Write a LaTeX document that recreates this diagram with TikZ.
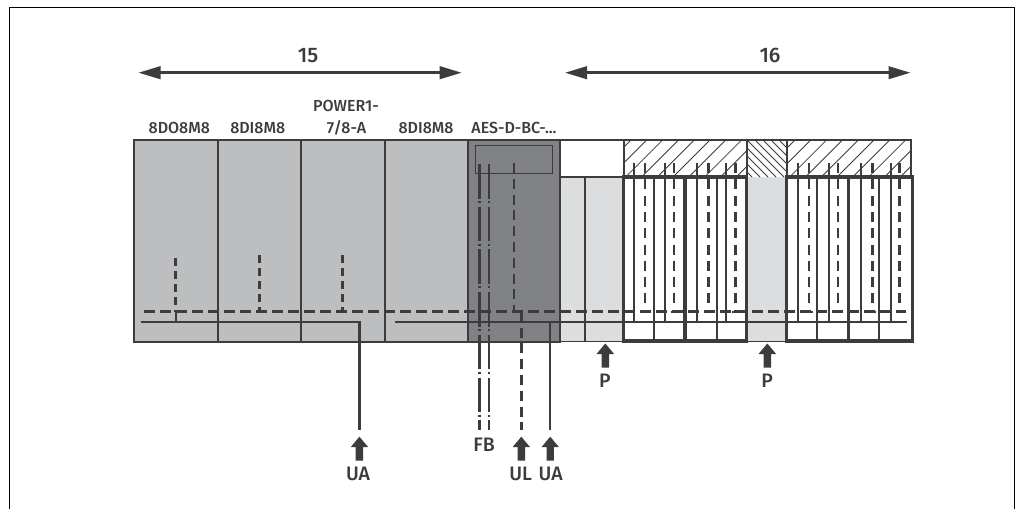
\documentclass[tikz,border=0pt]{standalone}
\usepackage{fontspec}
\setmainfont{Fira Sans}
\newfontfamily\midfont{Fira Sans Medium}
\usetikzlibrary{arrows.meta}
\definecolor{ink}{HTML}{3C3C3D}
\definecolor{modgray}{HTML}{BCBEC0}
\definecolor{darkgray}{HTML}{808285}
\definecolor{lightgray}{HTML}{DCDDDE}
\tikzset{
  x=1pt,y=-1pt,
  thinline/.style={draw=ink,line width=2.3pt},
  thickline/.style={draw=ink,line width=3.4pt},
  hatchline/.style={draw=ink,line width=.85pt},
  dashline/.style={draw=ink,line width=2.6pt,dash pattern=on 10.5pt off 5.5pt},
  stubline/.style={draw=ink,line width=2.6pt,dash pattern=on 8pt off 5pt},
  fbline/.style={draw=ink,line width=2.5pt,dash pattern=on 34.5pt off 2.5pt on 2pt off 3.7pt},
  span/.style={draw=ink,line width=2.6pt,{Triangle[length=22pt,width=12.5pt]}-{Triangle[length=22pt,width=12.5pt]}},
  feed/.style={fill=ink,draw=none},
  modlabel/.style={font=\midfont\fontsize{16}{18}\selectfont,text=ink,inner sep=0pt,anchor=center},
  siglabel/.style={font=\midfont\fontsize{19.5}{21}\selectfont,text=ink,inner sep=0pt,anchor=center},
  spanlabel/.style={font=\midfont\fontsize{21}{23}\selectfont,text=ink,inner sep=0pt,anchor=center},
}
\newcommand{\feedarrow}[2]{\fill[feed] (#1,#2) -- (#1+8.8,#2+10.5) -- (#1+3.7,#2+10.5) -- (#1+3.7,#2+24) -- (#1-3.7,#2+24) -- (#1-3.7,#2+10.5) -- (#1-8.8,#2+10.5) -- cycle;}
\begin{document}
\begin{tikzpicture}
\useasboundingbox (0,0) rectangle (1019,509);
\fill[white] (0,0) rectangle (1019,509);
% outer frame (open at the bottom)
\draw[black,line width=1.3pt] (9.5,509) -- (9.5,7.4) -- (1014.8,7.4) -- (1014.8,509);
% span arrows
\coordinate (la) at (138.5,72.7); \coordinate (lb) at (461.7,72.7);
\coordinate (ra) at (565,72.7); \coordinate (rb) at (910.5,72.7);
\draw[span] (la) -- (lb);
\draw[span] (ra) -- (rb);
\node[spanlabel] (n15) at (308,55.5) {15};
\node[spanlabel] (n16) at (770,55.5) {16};
% module labels
\node[modlabel] (m1) at (179.3,128.3) {8DO8M8};
\node[modlabel] (m2) at (257.7,128.3) {8DI8M8};
\node[modlabel] (m3a) at (346,105.7) {POWER1-};
\node[modlabel] (m3b) at (346.5,128.3) {7/8-A};
\node[modlabel] (m4) at (426,128.3) {8DI8M8};
\node[modlabel] (m5) at (514,128.3) {AES-D-BC-...};
% fills
\fill[modgray] (134,140) rectangle (468,341.5);
\fill[darkgray] (468,140) rectangle (559.7,341.5);
\fill[lightgray] (559.7,177) rectangle (623.5,341.5);
\fill[lightgray] (746.5,177) rectangle (786.5,341.5);
% module outlines
\draw[thinline,line width=2pt] (134,140) rectangle (468,341.5);
\draw[thinline,line width=2pt] (217.7,140) -- (217.7,341.5) (301.3,140) -- (301.3,341.5) (384.7,140) -- (384.7,341.5);
\draw[thinline,line width=2pt] (468,140) rectangle (559.7,341.5);
\draw[draw=ink,line width=1.3pt] (475.3,145.3) rectangle (552.7,173.3);
\draw[thinline,line width=1.7pt] (559.7,140) -- (910.7,140) -- (910.7,177);
\draw[thinline,line width=1.7pt] (559.7,177) -- (623.5,177) (585.3,177) -- (585.3,341.5) (559.7,341.5) -- (623.5,341.5);
\draw[thinline,line width=1.7pt] (746.5,341.5) -- (786.5,341.5) (747,140) -- (747,177) (787,140) -- (787,177) (623.7,140) -- (623.7,177);
% hatching
\begin{scope}
\clip (623.5,140) rectangle (747,177);
\foreach \k in {-1,...,9} \draw[hatchline] (631+15.8*\k,140) -- +(-37,37);
\end{scope}
\begin{scope}
\clip (787,140) rectangle (910.7,177);
\foreach \k in {0,...,9} \draw[hatchline] (795+15.8*\k,140) -- +(-37,37);
\end{scope}
\begin{scope}
\clip (747,140) rectangle (787,177);
\foreach \k in {-5,...,5} \draw[hatchline] (747+8*\k,140) -- +(37,37);
\end{scope}
% thin verticals in the right modules
\foreach \x in {654,717.3,816.7,879.3} \draw[thinline,line width=1.7pt] (\x,177) -- (\x,341);
% buses
\draw[dashline] (144,311.7) -- (906,311.7);
\draw[thinline] (140.5,322) -- (359.4,322) -- (359.4,430);
\draw[thinline] (395,322) -- (906.7,322);
\draw[thinline] (549.7,322) -- (549.7,430);
% tap lines
\draw[stubline] (175.7,258) -- (175.7,311.7);
\draw[thinline] (175.7,311.7) -- (175.7,322);
\draw[stubline] (259.7,255) -- (259.7,311.7);
\draw[stubline] (342.7,255) -- (342.7,311.7);
\foreach \x in {634,664.7,697.3,726.3,798.3,828.7,861,890.7} \draw[thinline] (\x,163) -- (\x,322);
\foreach \x in {645,674,708.3,735.3,809,838,872.3,899.3} {
  \draw[stubline,dash pattern=on 10pt off 6.3pt] (\x,163) -- (\x,311.7);
  \draw[draw=ink,line width=2.3pt] (\x-3.5,311.7) -- (\x+3.5,311.7);
}
% field bus and logic supply
\draw[fbline] (479.7,164) -- (479.7,430);
\draw[fbline] (489,164) -- (489,430);
\draw[stubline,dash pattern=on 10pt off 5.8pt] (514,163) -- (514,311.7);
\draw[draw=ink,line width=2.3pt] (514,311.7) -- (521.3,311.7);
\draw[stubline,dash pattern=on 10pt off 5.8pt] (521.3,311.7) -- (521.3,430);
% thick boxes
\draw[thickline] (623.7,177) rectangle (746.3,341);
\draw[thickline] (685,177) -- (685,341);
\draw[thickline] (786.3,177) rectangle (912.3,341);
\draw[thickline] (848.7,177) -- (848.7,341);
% feed arrows
\feedarrow{605.3}{343.5}
\feedarrow{767.3}{343.5}
\feedarrow{359.4}{436.7}
\feedarrow{521.3}{436.7}
\feedarrow{550.2}{436.7}
\node[siglabel] (p1) at (605,380.5) {P};
\node[siglabel] (p2) at (767,380.5) {P};
\node[siglabel] (ua1) at (358,473.5) {UA};
\node[siglabel] (fb) at (484,445) {FB};
\node[siglabel] (ul) at (520.7,473.5) {UL};
\node[siglabel] (ua2) at (550.7,473.5) {UA};
\end{tikzpicture}
\end{document}
